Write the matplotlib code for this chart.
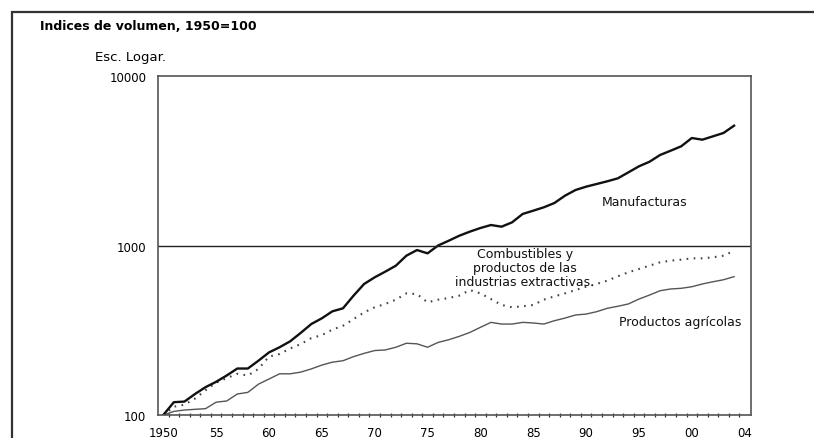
import matplotlib
matplotlib.use("Agg")
import matplotlib.pyplot as plt
from matplotlib.patches import Rectangle
from matplotlib.ticker import FixedLocator, NullFormatter, NullLocator

plt.rcParams['font.family'] = ['DejaVu Sans']

years = list(range(1950, 2005))

manufacturas = [100, 119, 120, 133, 146, 157, 171, 188, 188, 209,
                234, 251, 272, 305, 344, 372, 409, 426, 506, 593,
                649, 701, 760, 871, 940, 899, 1000, 1067, 1142, 1207,
                1268, 1321, 1291, 1370, 1535, 1605, 1680, 1781, 1967, 2125,
                2224, 2306, 2392, 2490, 2701, 2932, 3120, 3420, 3625, 3849,
                4307, 4210, 4406, 4612, 5093]

combustibles = [100, 112, 115, 125, 140, 155, 165, 175, 171, 187,
                221, 229, 247, 262, 284, 296, 319, 336, 368, 403,
                432, 452, 479, 522, 517, 462, 479, 490, 506, 546,
                522, 483, 446, 432, 438, 446, 479, 501, 522, 546,
                571, 593, 620, 658, 695, 727, 760, 796, 814, 825,
                840, 840, 852, 871, 931]

agricolas = [100, 105, 107, 108, 109, 119, 121, 133, 136, 152,
             163, 175, 175, 179, 187, 197, 205, 209, 221, 231,
             240, 242, 251, 265, 263, 251, 268, 278, 291, 307,
             329, 352, 344, 344, 352, 349, 344, 360, 373, 389,
             394, 407, 426, 438, 452, 483, 510, 541, 554, 559,
             571, 593, 611, 628, 655]

xtick_pos = [1950, 1955, 1960, 1965, 1970, 1975, 1980, 1985, 1990, 1995, 2000, 2005]
xtick_labels = ["1950", "55", "60", "65", "70", "75", "80", "85", "90", "95", "00", "04"]
ytick_vals = [100, 1000, 10000]
ytick_labels = ["100", "1000", "10000"]

W, H = 814, 439
fig = plt.figure(figsize=(W / 100, H / 100), dpi=100)

# outer frame (clipped at the right and bottom)
fig.patches.append(Rectangle((12 / W, -0.2), 1.2, 1 - 13 / H + 0.2,
                             transform=fig.transFigure, fill=False,
                             edgecolor='#333333', linewidth=1.6))

left, right, top, bottom = 158, 751, 77, 416
ax = fig.add_axes([left / W, 1 - bottom / H, (right - left) / W, (bottom - top) / H])

ax.set_yscale('log')
ax.set_ylim(100, 10000)
ax.set_xlim(1949.5, 2005.6)

ax.plot(years, agricolas, color='#555555', lw=1.0)
ax.plot(years, combustibles, color='#444444', lw=1.5, linestyle=(0, (0.8, 2.6)))
ax.plot(years, manufacturas, color='#111111', lw=1.7)

ax.axhline(1000, color='#222222', lw=1.0)

for s in ax.spines.values():
    s.set_color('#555555')
    s.set_linewidth(1.2)

ax.yaxis.set_major_locator(FixedLocator(ytick_vals))
ax.set_yticklabels(ytick_labels)
ax.yaxis.set_minor_locator(NullLocator())
ax.yaxis.set_minor_formatter(NullFormatter())
ax.tick_params(axis='y', which='major', length=0, pad=8.5, labelsize=8.5)

ax.set_xticks(xtick_pos)
ax.set_xticklabels(xtick_labels)
ax.tick_params(axis='x', which='major', length=0, pad=8, labelsize=8.5)
ax.xaxis.set_minor_locator(FixedLocator([1949.5 + k for k in range(1, 56)]))
ax.tick_params(axis='x', which='minor', direction='inout', length=3.5, width=0.9, color='#333333')

labels = [
    (645, 203, "Manufacturas"),
    (525, 269, "Combustibles y\nproductos de las\nindustrias extractivas."),
    (680, 323, "Productos agrícolas"),
]
for x, y, s in labels:
    ax.text(x, H - y, s, transform=None, fontsize=9, ha='center', va='center',
            linespacing=1.1, color='#111111')

fig.text(40 / W, 1 - 26 / H, "Indices de volumen, 1950=100", fontsize=9, fontweight='bold',
         ha='left', va='center')
fig.text(95 / W, 1 - 57 / H, "Esc. Logar.", fontsize=9.5, ha='left', va='center')

fig.savefig("out.png", dpi=100)
